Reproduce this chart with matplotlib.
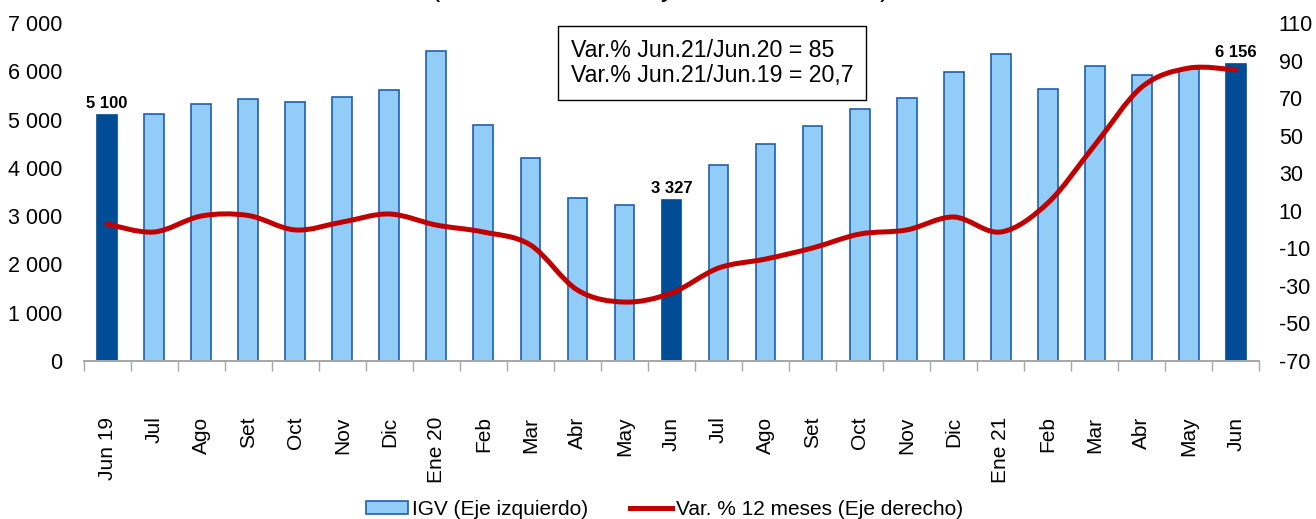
import numpy as np
import matplotlib
matplotlib.use("Agg")
import matplotlib.pyplot as plt
from matplotlib.path import Path
from matplotlib.patches import PathPatch, Patch
from matplotlib.lines import Line2D

plt.rcParams['font.family'] = ['Liberation Sans', 'DejaVu Sans']
plt.rcParams['axes.unicode_minus'] = False

# datos
meses = ["Jun 19", "Jul", "Ago", "Set", "Oct", "Nov", "Dic", "Ene 20", "Feb", "Mar", "Abr", "May",
         "Jun", "Jul", "Ago", "Set", "Oct", "Nov", "Dic", "Ene 21", "Feb", "Mar", "Abr", "May", "Jun"]
igv = [5100, 5120, 5320, 5420, 5360, 5460, 5610, 6420, 4890, 4200, 3380, 3230,
       3327, 4060, 4490, 4870, 5220, 5450, 5985, 6360, 5630, 6110, 5920, 6050, 6156]
var_12m = [2.9, -1.3, 7.2, 7.5, -0.2, 4.0, 8.3, 2.4, -1.3, -8.2, -32.2, -38.6,
           -33.8, -20.5, -15.7, -9.8, -2.4, -0.2, 6.7, -1.3, 14.1, 45.0, 75.9, 86.0, 85.0]
destacados = [0, 12, 24]  # barras resaltadas con etiqueta
izq_ticks = [0, 1000, 2000, 3000, 4000, 5000, 6000, 7000]
der_ticks = [-70, -50, -30, -10, 10, 30, 50, 70, 90, 110]

AZUL_CLARO = "#92CDF8"
AZUL_BORDE = "#1F5FAE"
AZUL_OSCURO = "#004C97"
ROJO = "#C00000"


def smooth_path(xs, ys):
    # curva tipo excel (catmull-rom pasado a bezier)
    verts = [(xs[0], ys[0])]
    codes = [Path.MOVETO]
    n = len(xs)
    for i in range(n - 1):
        a = i - 1 if i > 0 else i
        d = i + 2 if i + 2 < n else i + 1
        c1 = (xs[i] + (xs[i + 1] - xs[a]) / 6, ys[i] + (ys[i + 1] - ys[a]) / 6)
        c2 = (xs[i + 1] - (xs[d] - xs[i]) / 6, ys[i + 1] - (ys[d] - ys[i]) / 6)
        verts += [c1, c2, (xs[i + 1], ys[i + 1])]
        codes += [Path.CURVE4] * 3
    return Path(verts, codes)


def miles(v):
    return f"{int(v):,}".replace(",", " ")


fig = plt.figure(figsize=(13.16, 5.19), dpi=100)
ax = fig.add_axes([0.0635, 0.3044, 0.8935, 0.6513])
ax2 = ax.twinx()

x = np.arange(len(meses))
colores = [AZUL_OSCURO if i in destacados else AZUL_CLARO for i in x]
bordes = [AZUL_OSCURO if i in destacados else AZUL_BORDE for i in x]
ax.bar(x, igv, width=0.42, color=colores, edgecolor=bordes, linewidth=1.2, zorder=2)

for i in destacados:
    ax.annotate(miles(igv[i]), (x[i], igv[i]), xytext=(0, 3), textcoords='offset points',
                ha='center', va='bottom', fontsize=12, fontweight='bold')

ax.set_xlim(-0.5, len(meses) - 0.5)
ax.set_ylim(0, 7000)
ax.set_yticks(izq_ticks)
ax.set_yticklabels([miles(v) for v in izq_ticks])
ax.set_xticks(x)
ax.set_xticklabels(meses, rotation=90)
ax.set_xticks(np.arange(len(meses) + 1) - 0.5, minor=True)
ax.tick_params(axis='x', which='major', length=0, labelsize=15, pad=40)
ax.tick_params(axis='x', which='minor', length=7, color='#A6A6A6', width=1)
ax.tick_params(axis='y', length=0, labelsize=15.5, pad=15)

ax2.add_patch(PathPatch(smooth_path(x, var_12m), fill=False, edgecolor=ROJO, lw=3.6,
                        capstyle='round', joinstyle='round', zorder=3))
ax2.set_ylim(-70, 110)
ax2.set_yticks(der_ticks)
ax2.tick_params(axis='y', length=0, labelsize=15.5, pad=14)

for a in (ax, ax2):
    for s in ('top', 'left', 'right'):
        a.spines[s].set_visible(False)
    a.spines['bottom'].set_color('#A6A6A6')
    a.spines['bottom'].set_linewidth(1.2)

ax2.text(0.4145, 0.882, "Var.% Jun.21/Jun.20 = 85\nVar.% Jun.21/Jun.19 = 20,7",
         transform=ax.transAxes, fontsize=16.7, va='center', ha='left', linespacing=1.12,
         bbox=dict(boxstyle='square,pad=0.55', facecolor='white', edgecolor='black', linewidth=1))

# titulo que queda cortado arriba
fig.text(0.502, 1.008, "(Millones de soles y variación % real)", ha='center', va='baseline',
         fontsize=20)

handles = [Patch(facecolor=AZUL_CLARO, edgecolor=AZUL_BORDE, linewidth=1.2),
           Line2D([], [], color=ROJO, lw=3.6)]
fig.legend(handles, ["IGV (Eje izquierdo)", "Var. % 12 meses (Eje derecho)"],
           loc='center', bbox_to_anchor=(0.505, 0.019), ncol=2, frameon=False, fontsize=15,
           handlelength=2.0, handleheight=0.6, handletextpad=0.2, columnspacing=2.0)

fig.savefig("out.png", dpi=100)
